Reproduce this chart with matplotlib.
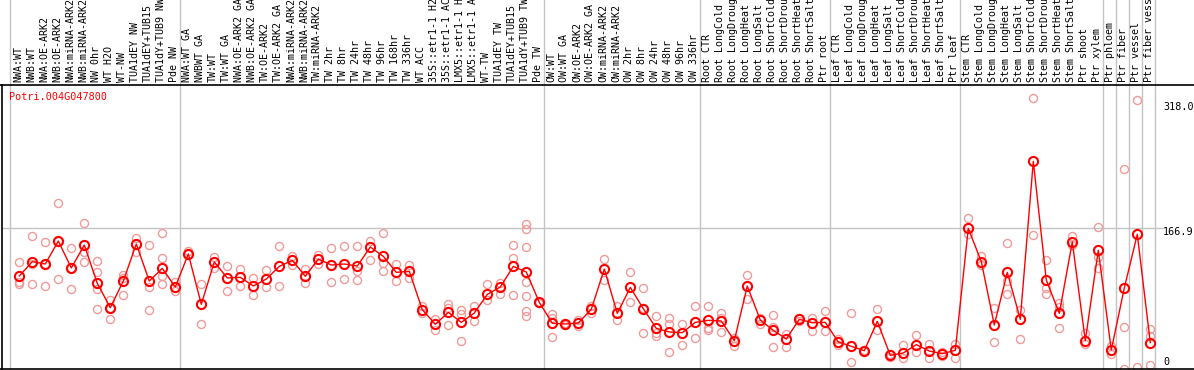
import matplotlib
matplotlib.use("Agg")
import matplotlib.pyplot as plt
from matplotlib.lines import Line2D

labels = [
    "NWA:WT", "NWB:WT", "NWA:OE-ARK2", "NWB:OE-ARK2", "NWA:miRNA-ARK2", "NWB:miRNA-ARK2",
    "NW 0hr", "WT H2O", "WT-NW", "TUA1dEY NW", "TUA1dEY+TUB15", "TUA1dY+TUB9 NW", "Pde NW",
    "NWA:WT GA", "NWBWT GA", "TW:WT", "TW:WT GA", "NWA:OE-ARK2 GA", "NWB:OE-ARK2 GA",
    "TW:OE-ARK2", "TW:OE-ARK2 GA", "NWA:miRNA-ARK2", "NWB:miRNA-ARK2", "TW:miRNA-ARK2",
    "TW 2hr", "TW 8hr", "TW 24hr", "TW 48hr", "TW 96hr", "TW 168hr", "TW 336hr", "WT ACC",
    "35S::etr1-1 H2", "35S::etr1-1 AC", "LMX5::etr1-1 H", "LMX5::etr1-1 A", "WT-TW",
    "TUA1dEY TW", "TUA1dEY+TUB15", "TUA1dY+TUB9 TW", "Pde TW",
    "OW:WT", "OW:WT GA", "OW:OE-ARK2", "OW:OE-ARK2 GA", "OW:miRNA-ARK2", "OW:miRNA-ARK2",
    "OW 2hr", "OW 8hr", "OW 24hr", "OW 48hr", "OW 96hr", "OW 336hr",
    "Root CTR", "Root LongCold", "Root LongDroug", "Root LongHeat", "Root LongSalt",
    "Root ShortCold", "Root ShortDrou", "Root ShortHeat", "Root ShortSalt", "Ptr root",
    "Leaf CTR", "Leaf LongCold", "Leaf LongDroug", "Leaf LongHeat", "Leaf LongSalt",
    "Leaf ShortCold", "Leaf ShortDrou", "Leaf ShortHeat", "Leaf ShortSalt", "Ptr leaf",
    "Stem CTR", "Stem LongCold", "Stem LongDroug", "Stem LongHeat", "Stem LongSalt",
    "Stem ShortCold", "Stem ShortDrou", "Stem ShortHeat", "Stem ShortSalt",
    "Ptr shoot", "Ptr xylem", "Ptr phloem", "Ptr fiber", "Ptr vessel", "Ptr fiber vess",
]

means = [
    110.3, 127.3, 124.5, 151.8, 119.8, 147.0, 101.6, 72.7, 104.3, 148.2, 104.3, 119.4, 97.2,
    136.4, 76.7, 126.9, 107.9, 108.7, 98.4, 106.7, 121.7, 128.9, 109.9, 130.4, 123.3, 124.5,
    122.1, 144.7, 133.6, 114.6, 115.8, 70.4, 53.0, 67.2, 55.3, 66.4, 88.5, 97.2, 121.7, 115.0,
    79.0, 54.2, 53.4, 54.5, 70.8, 118.6, 66.0, 96.8, 71.5, 48.2, 43.9, 43.1, 55.3,
    57.7, 56.9, 33.6, 98.4, 58.1, 45.8, 35.6, 58.9, 54.9, 55.3,
    32.0, 26.9, 21.7, 56.5, 16.2, 19.0, 28.9, 21.3, 18.2, 22.1,
    166.8, 127.3, 52.2, 114.6, 58.9, 246.2, 105.5, 66.0, 150.6, 33.6, 140.7, 22.5, 96.0,
    159.7, 31.2,
]

replicates = [
    [126.9, 103.0, 100.4], [157.7, 124.5, 100.4], [150.6, 124.5, 98.4], [196.4, 151.8, 106.7],
    [143.5, 119.8, 94.5], [173.1, 139.1, 126.9], [128.0, 115.0, 94.9, 70.8], [81.8, 72.7, 58.9],
    [111.5, 107.5, 87.4], [154.9, 139.1], [146.6, 96.8, 69.6], [161.3, 131.6, 110.7, 100.8],
    [103.6, 92.5], [139.9, 136.4], [100.4, 53.0], [133.2, 119.4], [121.7, 92.1], [118.6, 98.0],
    [107.9, 87.7], [117.0, 96.8], [145.5, 98.4], [134.4, 122.9], [118.6, 101.6], [135.6, 124.5],
    [143.5, 102.8], [145.5, 106.3], [145.5, 116.2, 105.9], [151.8, 128.9], [161.3, 125.3, 116.2],
    [124.1, 104.0], [123.3, 108.3], [74.3, 66.4], [59.3, 46.6], [77.1, 72.7, 52.2],
    [70.4, 64.8, 33.2], [74.7, 57.3], [100.4, 81.8], [102.4, 88.9], [146.6, 131.6, 87.7],
    [171.5, 166.4, 144.3, 102.8, 86.6, 68.8, 62.8], [80.0, 78.0], [65.2, 60.9, 37.9],
    [55.0, 52.0], [58.5, 51.4], [74.7, 66.8], [130.0, 105.1], [74.7, 57.7], [114.6, 79.0],
    [95.7, 72.7, 42.3], [62.8, 42.3, 39.5], [60.1, 53.0, 20.2], [53.0, 28.1], [74.3, 36.4],
    [74.3, 49.0, 46.2], [66.8, 60.9, 43.5], [36.4, 27.7], [111.1, 82.6], [60.9, 53.0],
    [64.0, 50.2, 25.7], [41.5, 25.7], [60.9, 57.0], [60.9, 45.5], [68.8, 45.5],
    [35.6, 28.9], [66.0, 7.9], [21.7, 22.0], [71.1, 46.2], [18.2, 14.0], [28.5, 12.6],
    [40.3, 20.6], [29.2, 13.4], [19.8, 15.8], [29.6, 13.0],
    [178.7, 160.1], [134.0, 123.3], [71.9, 31.6], [149.0, 104.3, 88.5], [70.0, 35.2],
    [321.0, 158.5], [128.9, 95.7, 88.5], [77.9, 73.9, 48.2], [157.3, 147.0], [42.3, 29.2],
    [168.0, 133.2, 120.2], [17.4, 27.0], [236.8, 49.4, 0.0], [318.6, 2.8], [47.0, 39.1, 4.7],
]

gene = "Potri.004G047800"
right_ticks = ["318.0", "166.9", "0"]
grid_value = 166.9
group_ends = [12, 40, 52, 62, 72, 83, 84, 85, 86, 87]

W, H = 1194, 370
fig = plt.figure(figsize=(W / 100, H / 100), dpi=100)

def fx(px):
    return px / W

def fy(py):
    return 1 - py / H

ax_l, ax_r, ax_t, ax_b = 2, 1155, 85, 369
ax = fig.add_axes([fx(ax_l), fy(ax_b), fx(ax_r - ax_l), (ax_b - ax_t) / H])
x0, dx = 19.3, 13.0
ax.set_xlim((ax_l - x0) / dx, (ax_r - x0) / dx)
ax.set_ylim(0, 284 / 0.8433)
for s in ax.spines.values():
    s.set_visible(False)
ax.set_xticks([])
ax.set_yticks([])

mono = "DejaVu Sans Mono"
rep_color = "#f09a9a"
red = "#ff0000"
gray = "#c4c4c4"

ax.axhline(grid_value, color=gray, lw=1, zorder=0)

trans = ax.get_xaxis_transform()
seps = [-0.72] + [g + 0.385 for g in group_ends]
for s in seps:
    ax.plot([s, s], [0, 1 + 85 / 284], color=gray, lw=1, transform=trans,
            clip_on=False, zorder=0)

for i, reps in enumerate(replicates):
    ax.plot([i] * len(reps), reps, linestyle="none", marker="o", ms=5.8,
            mfc="none", mec=rep_color, mew=1.0, zorder=2)

xs = list(range(len(means)))
ax.plot(xs, means, color=red, lw=1.0, zorder=3)
ax.plot(xs, means, linestyle="none", marker="o", ms=6.6, mfc="none",
        mec=red, mew=1.5, zorder=4)

for i, lab in enumerate(labels):
    ax.text(i - 0.08, 1 + 3 / 284, lab, transform=trans, rotation=90,
            ha="center", va="bottom", fontsize=7.2, family=mono, color="black",
            clip_on=False)

fig.add_artist(Line2D([0, 1], [fy(85), fy(85)], color="black", lw=1.2))
fig.add_artist(Line2D([0, 1], [fy(369), fy(369)], color="black", lw=1.2))
fig.add_artist(Line2D([fx(1.7), fx(1.7)], [fy(85), fy(369)], color="black", lw=1.2))
fig.add_artist(Line2D([fx(1155), fx(1163)], [fy(228.3), fy(228.3)], color=gray, lw=1))

fig.text(fx(9), fy(97.3), gene, color=red, fontsize=7.3, family=mono,
         ha="left", va="center")
for lab, py in zip(right_ticks, [107.3, 231.7, 361.7]):
    fig.text(fx(1163), fy(py), lab, color="black", fontsize=7.3, family=mono,
             ha="left", va="center")

fig.savefig("out.png", dpi=100, facecolor="white")
